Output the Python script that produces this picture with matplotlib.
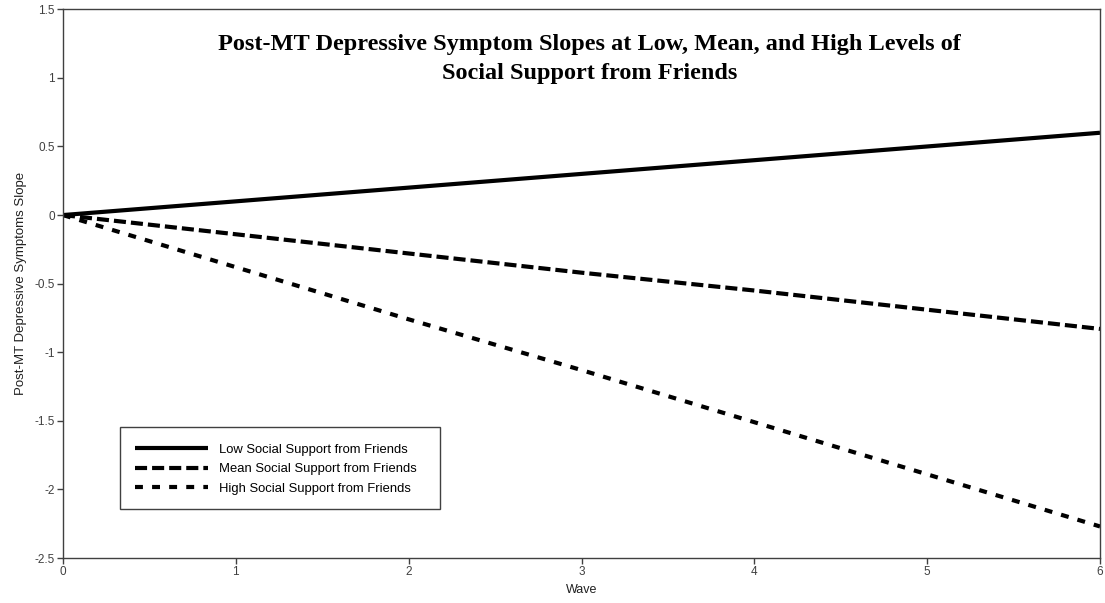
#!/usr/bin/env python

import matplotlib
matplotlib.use("Agg")
import matplotlib.pyplot as plt
from matplotlib.patches import Rectangle

# Waves and model-implied slopes for each level of friend support
waves = [0, 1, 2, 3, 4, 5, 6]
low_support = [0.0, 0.1, 0.2, 0.3, 0.4, 0.5, 0.6]
mean_support = [0.0, -0.14, -0.28, -0.42, -0.55, -0.69, -0.83]
high_support = [0.0, -0.38, -0.76, -1.13, -1.51, -1.89, -2.27]

series_labels = [
    "Low Social Support from Friends",
    "Mean Social Support from Friends",
    "High Social Support from Friends",
]

plt.rcParams["font.family"] = ["Liberation Sans", "DejaVu Sans"]

fig = plt.figure(figsize=(11.05, 6.03), dpi=100)
ax = fig.add_axes([0.057, 0.0746, 0.9385, 0.910])

ax.plot(waves, low_support, color="black", linewidth=3, solid_capstyle="butt",
        label=series_labels[0])
ax.plot(waves, mean_support, color="black", linewidth=3, dashes=(2.9, 1.2),
        label=series_labels[1])
ax.plot(waves, high_support, color="black", linewidth=3, dashes=(1.9, 2.2),
        label=series_labels[2])

ax.set_xlim(0, 6)
ax.set_ylim(-2.5, 1.5)
ax.set_xticks(range(0, 7))
ax.set_yticks([-2.5, -2, -1.5, -1, -0.5, 0, 0.5, 1, 1.5])
ax.set_yticklabels(["-2.5", "-2", "-1.5", "-1", "-0.5", "0", "0.5", "1", "1.5"])

for spine in ax.spines.values():
    spine.set_color("#404040")
    spine.set_linewidth(1.0)
ax.tick_params(direction="out", length=4, width=1, color="#404040",
               labelsize=8.5, labelcolor="#404040", pad=2)

ax.set_xlabel("Wave", fontsize=9, color="#202020", labelpad=4)
ax.set_ylabel("Post-MT Depressive Symptoms Slope", fontsize=9.5, color="#202020",
              labelpad=5)

ax.text(0.508, 0.955,
        "Post-MT Depressive Symptom Slopes at Low, Mean, and High Levels of\n"
        "Social Support from Friends",
        transform=ax.transAxes, ha="center", va="top",
        family=["Liberation Serif", "DejaVu Serif"], fontweight="bold",
        fontsize=17.5, linespacing=1.5)

# Legend box drawn separately so it can be wider than its contents
ax.add_patch(Rectangle((0.055, 0.089), 0.3086, 0.149, transform=ax.transAxes,
                       facecolor="white", edgecolor="#404040", linewidth=1.0,
                       zorder=4))
leg = ax.legend(loc="upper left", bbox_to_anchor=(0.0694, 0.208), fontsize=9.4,
                frameon=False, handlelength=5.6, handletextpad=0.8,
                borderpad=0, labelspacing=0.55, borderaxespad=0)
leg.set_zorder(5)

fig.savefig("out.png", dpi=100)
